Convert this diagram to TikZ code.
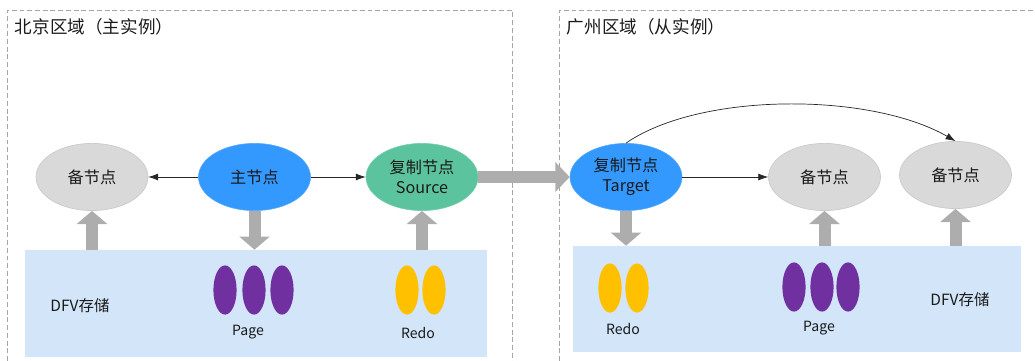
\documentclass[tikz,border=0pt]{standalone}
\usepackage{fontspec}
\setmainfont{Noto Sans CJK SC}
\usepackage{tikz}
\usetikzlibrary{
  arrows.meta,
  positioning,
  calc,
  shapes.geometric
}
\definecolor{nodegray}{HTML}{D9D9D9}
\definecolor{nodeblue}{HTML}{3399FF}
\definecolor{nodegreen}{HTML}{5BC49F}
\definecolor{pagepurple}{HTML}{7030A0}
\definecolor{redoyellow}{HTML}{FFC000}
\definecolor{storeblue}{HTML}{D3E5F8}
\definecolor{arrowgray}{HTML}{ADADAD}
\definecolor{textdark}{HTML}{1A1A1A}

\begin{document}
\begin{tikzpicture}[
      x=0.025cm, y=-0.025cm,
      every node/.style={text=textdark},
      region/.style={draw=gray!70, dash pattern=on 3.5pt off 2pt, line width=0.5pt},
      regtitle/.style={anchor=west, font=\fontsize{12.5}{14}\selectfont},
      knoten/.style={ellipse, minimum width=2.8cm, minimum height=1.68cm,
                     inner sep=0pt, align=center, line width=0.4pt,
                     font=\fontsize{11.5}{14}\selectfont},
      bak/.style={knoten, fill=nodegray, draw=gray!45},
      haupt/.style={knoten, fill=nodeblue, draw=nodeblue!85!white},
      repl/.style={knoten, fill=nodegreen, draw=nodegreen!85!white},
      store/.style={rectangle, fill=storeblue, inner sep=0pt},
      page/.style={ellipse, fill=pagepurple, minimum width=0.58cm, minimum height=1.23cm, inner sep=0pt},
      redo/.style={ellipse, fill=redoyellow, minimum width=0.58cm, minimum height=1.23cm, inner sep=0pt},
      lbl/.style={font=\fontsize{10}{12}\selectfont},
      dfv/.style={font=\fontsize{11}{13}\selectfont},
      seta/.style={-{Latex[length=7pt,width=5pt]}, line width=0.5pt, black!85},
      dicke/.style={-{Triangle[width=0.75cm,length=0.33cm]}, line width=0.3cm, arrowgray},
      quer/.style={-{Triangle[width=0.73cm,length=0.36cm]}, line width=0.28cm, arrowgray}
  ]
      \useasboundingbox (0,0) rectangle (1035,361);

      % Regionen
      \draw[region] (7,361) -- (7,10) -- (512,10) -- (512,361);
      \draw[region] (559,361) -- (559,10) -- (1035,10);
      \node[regtitle] (bjtitle) at (10,27) {北京区域（主实例）};
      \node[regtitle] (gztitle) at (562,27) {广州区域（从实例）};

      % Speicher
      \node[store, minimum width=11.55cm, minimum height=2.675cm] (bjstore) at (256,303.5) {};
      \node[store, minimum width=11.2cm, minimum height=2.65cm] (gzstore) at (797,299) {};

      % Knoten Peking
      \node[bak]   (bjbak)  at (92,177)  {备节点};
      \node[haupt] (bjmain) at (254.5,177) {主节点};
      \node[repl]  (bjsrc)  at (422,177) {复制节点\\Source};

      % Knoten Guangzhou
      \node[haupt] (gztgt)  at (626,177) {复制节点\\Target};
      \node[bak]   (gzbak1) at (824.5,177) {备节点};
      \node[bak]   (gzbak2) at (955.5,175) {备节点};

      % Pfeile
      \draw[seta] (bjmain.west) -- (bjbak.east);
      \draw[seta] (bjmain.east) -- (bjsrc.west);
      \draw[seta] (gztgt.east) -- (gzbak1.west);
      \draw[seta] (gztgt.north) .. controls (700,92) and (870,92) .. (gzbak2.north);
      \draw[quer] (bjsrc.east) -- (gztgt.west);

      \draw[dicke] (bjbak.south |- bjstore.north) -- (bjbak.south);
      \draw[dicke] (bjmain.south) -- (bjmain.south |- bjstore.north);
      \draw[dicke] (bjsrc.south |- bjstore.north) -- (bjsrc.south);
      \draw[dicke] (gztgt.south) -- (gztgt.south |- gzstore.north);
      \draw[dicke] (gzbak1.south |- gzstore.north) -- (gzbak1.south);
      \draw[dicke] (gzbak2.south |- gzstore.north) -- (gzbak2.south);

      % Page und Redo Peking
      \node[page] (bjp1) at (225,290) {};
      \node[page] (bjp2) at (254,290) {};
      \node[page] (bjp3) at (282,290) {};
      \node[redo] (bjr1) at (407,290) {};
      \node[redo] (bjr2) at (434,290) {};
      \node[lbl] (bjpage) at (248,332) {Page};
      \node[lbl] (bjredo) at (418,333) {Redo};
      \node[dfv] (bjdfv)  at (80,306) {DFV存储};

      % Page und Redo Guangzhou
      \node[redo] (gzr1) at (610,288) {};
      \node[redo] (gzr2) at (637,288) {};
      \node[page] (gzp1) at (794,287) {};
      \node[page] (gzp2) at (822,287) {};
      \node[page] (gzp3) at (848,287) {};
      \node[lbl] (gzredo) at (623,329) {Redo};
      \node[lbl] (gzpage) at (819,328) {Page};
      \node[dfv] (gzdfv)  at (960,300) {DFV存储};
  \end{tikzpicture}
\end{document}
